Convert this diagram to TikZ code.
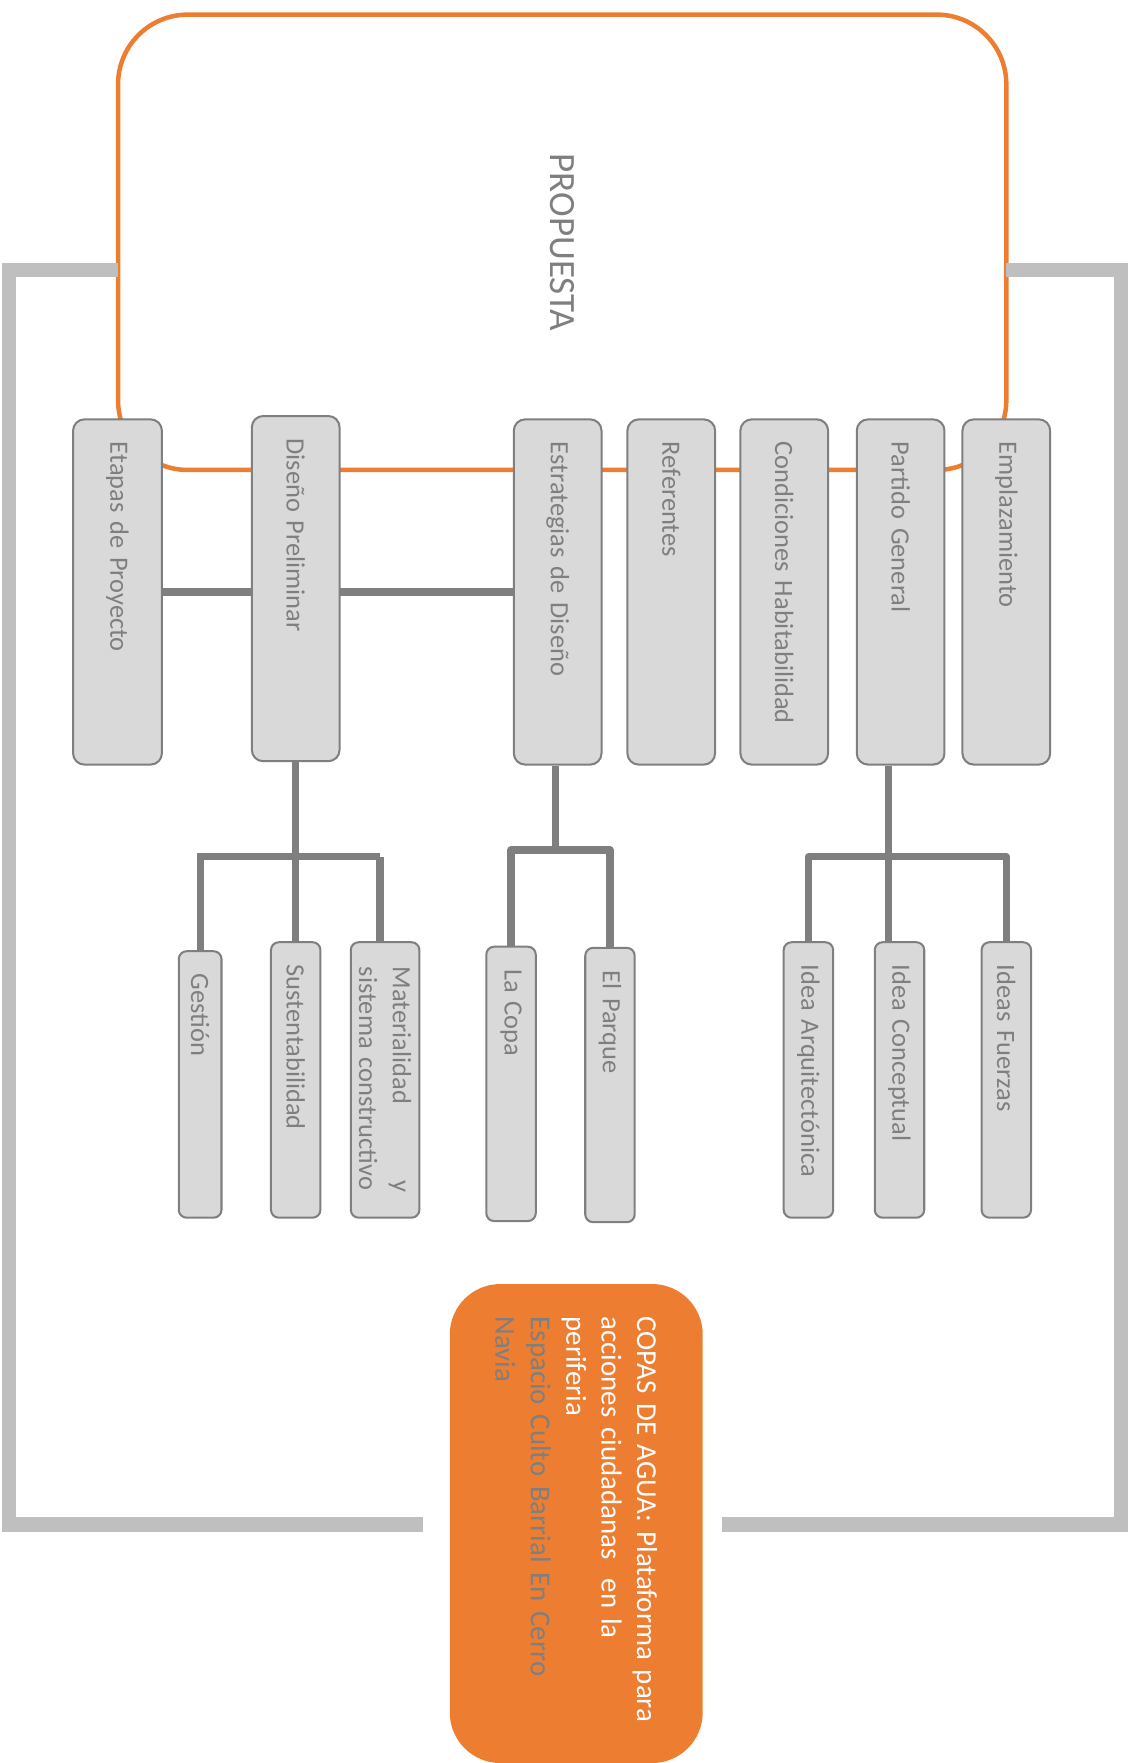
\documentclass[tikz,border=0pt]{standalone}
\usepackage{fontspec}
\setmainfont{Carlito}
\usetikzlibrary{backgrounds}
\definecolor{orng}{HTML}{ED7D31}
\definecolor{boxfill}{HTML}{D9D9D9}
\definecolor{boxline}{HTML}{7F7F7F}
\definecolor{brk}{HTML}{BFBFBF}
\definecolor{txtgray}{HTML}{7F7F7F}
\begin{document}
\begin{tikzpicture}[x=1pt,y=1pt,
  topbox/.style={draw=boxline, fill=boxfill, line width=1.8pt, rounded corners=10pt, rotate=-90,
    minimum width=307pt, minimum height=78pt, text width=267pt, inner xsep=20pt, inner ysep=0pt,
    align=left, text=txtgray, font=\fontsize{23.5}{28}\selectfont},
  subbox/.style={draw=boxline, fill=boxfill, line width=1.8pt, rounded corners=7pt, rotate=-90,
    minimum width=245pt, minimum height=44pt, text width=205pt, inner xsep=20pt, inner ysep=0pt,
    align=left, text=txtgray, font=\fontsize{23.5}{30}\selectfont},
  link/.style={draw=boxline, line width=6.5pt},
  tree/.style={draw=boxline, line width=6.3pt, line join=round},
  bracket/.style={draw=brk, line width=13pt, line join=miter}
]
\useasboundingbox (0,0) rectangle (1008,-1568);

% main frame
\node[draw=orng, line width=4pt, rounded corners=62pt, rotate=-90, minimum width=405pt,
  minimum height=790pt, inner sep=0pt, text=txtgray, font=\fontsize{33}{38}\selectfont]
  (prop) at (500,-215.5) {PROPUESTA};

% brackets
\coordinate (lt) at (105,-240);
\coordinate (lc1) at (8,-240);
\coordinate (lc2) at (8,-1356);
\coordinate (lb) at (376,-1356);
\coordinate (rt) at (895,-240);
\coordinate (rc1) at (997,-240);
\coordinate (rc2) at (997,-1356);
\coordinate (rb) at (642,-1356);
\draw[bracket] (lt) -- (lc1) -- (lc2) -- (lb);
\draw[bracket] (rt) -- (rc1) -- (rc2) -- (rb);

% top row
\node[topbox, minimum height=79pt] (etapas) at (104.5,-526.5) {Etapas de Proyecto};
\node[topbox] (dis) at (263,-523.5) {Diseño Preliminar};
\node[topbox] (est) at (496,-526.5) {Estrategias de Diseño};
\node[topbox] (ref) at (597,-526.5) {Referentes};
\node[topbox] (cond) at (697.5,-526.5) {Condiciones Habitabilidad};
\node[topbox] (part) at (801,-526.5) {Partido General};
\node[topbox] (empl) at (895,-526.5) {Emplazamiento};

% sub row
\node[subbox, minimum height=38pt, minimum width=237pt, text width=197pt] (gest) at (178,-964.5) {Gestión};
\node[subbox] (sus) at (263,-960.5) {Sustentabilidad};
\node[subbox, minimum height=61pt, text width=201pt, inner xsep=22pt] (mat) at (342.5,-960.5)
  {Materialidad\hspace{0pt plus 1filll}y\\sistema constructivo};
\node[subbox, minimum width=244pt, text width=204pt] (copa) at (454.5,-964) {La Copa};
\node[subbox, minimum width=244pt, text width=204pt] (parque) at (542.5,-965) {El Parque};
\node[subbox] (ia) at (719,-960.5) {Idea Arquitectónica};
\node[subbox] (ic) at (800,-960.5) {Idea Conceptual};
\node[subbox] (ifz) at (895,-960.5) {Ideas Fuerzas};

% title box
\node[fill=orng, rounded corners=45pt, rotate=-90, minimum width=426pt, minimum height=225pt,
  text width=368pt, inner xsep=29pt, inner ysep=0pt, align=left, text=white,
  font=\fontsize{25.7}{31.5}\selectfont] (copas) at (512.5,-1355)
  {COPAS DE AGUA: Plataforma para\\acciones ciudadanas\ \ en la\\periferia\\
   \textcolor{txtgray}{Espacio Culto Barrial En Cerro}\\\textcolor{txtgray}{Navia}};

% connectors
\begin{pgfonlayer}{background}
\draw[link] (etapas.north) -- (est.south);
\coordinate (d1) at (175,-762);
\coordinate (d2) at (338,-762);
\draw[tree] (dis.east) -- (sus.west);
\draw[tree] (d1) -- (d2);
\draw[tree] (gest.west) -- (gest.west |- d1);
\draw[tree] (d2) -- (d2 |- mat.west);
\coordinate (e1) at (494,-756);
\draw[tree] (est.east -| e1) -- (e1);
\draw[tree] (copa.west) |- (e1) -| (parque.west);
\coordinate (p1) at (790,-762);
\draw[tree] (part.east -| p1) -- (p1 |- ic.west);
\draw[tree] (ia.west) |- (p1) -| (ifz.west);
\end{pgfonlayer}
\end{tikzpicture}
\end{document}
